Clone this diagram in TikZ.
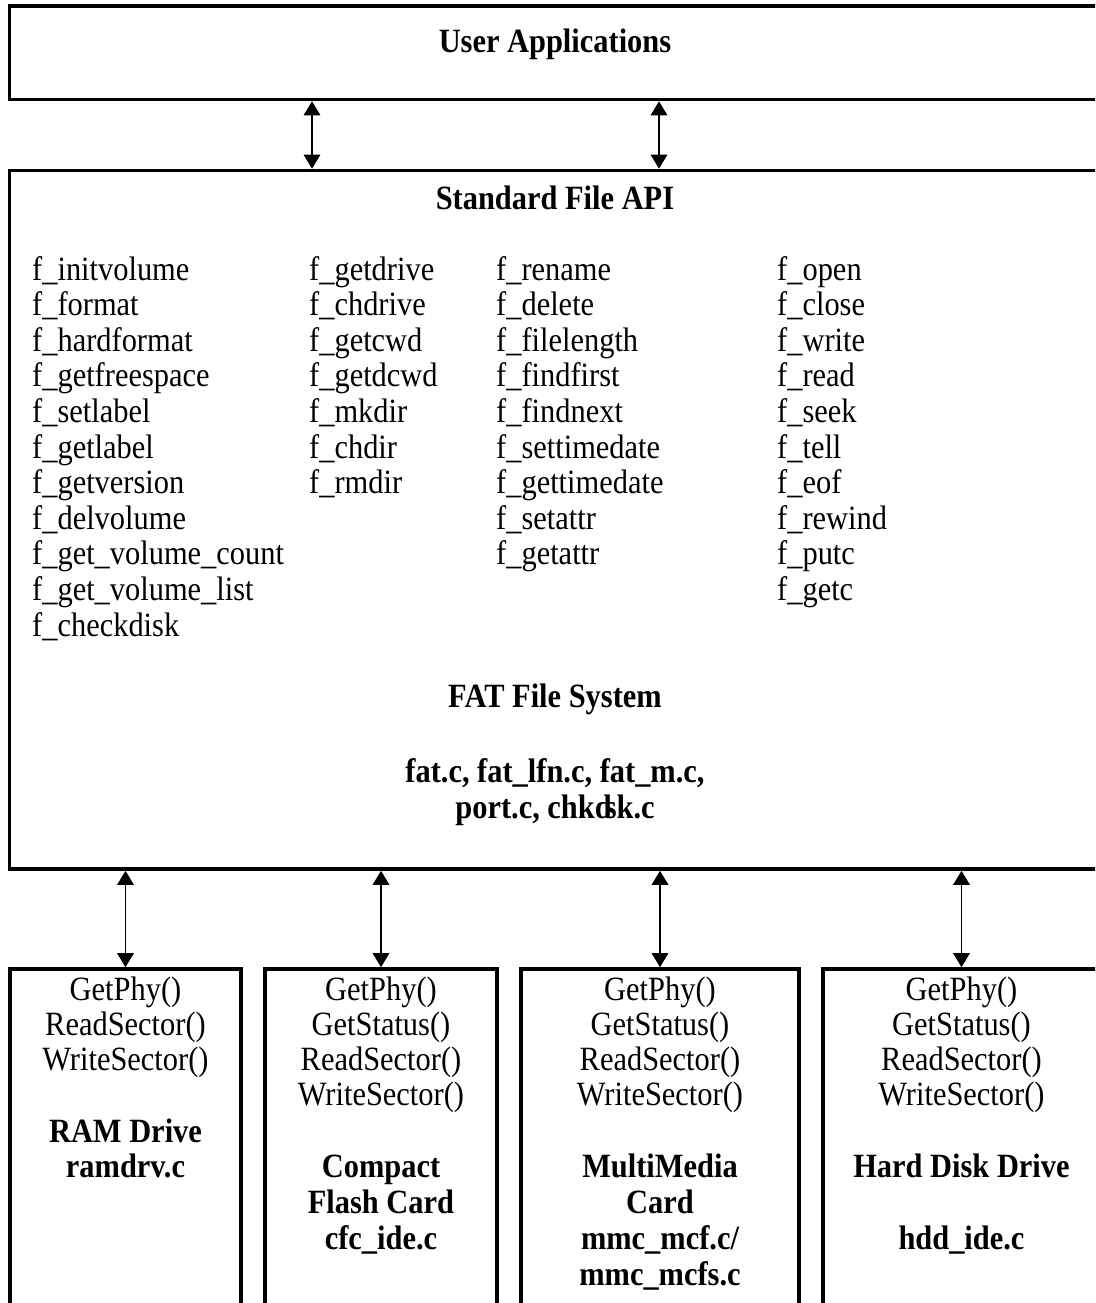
\documentclass[tikz,border=0pt]{standalone}
\usepackage{fontspec}
\setmainfont{Liberation Serif}[FakeStretch=0.895]
\usetikzlibrary{arrows.meta}
\tikzset{
  boxstyle/.style={draw=black, line width=3.6pt, inner sep=0pt, outer sep=0pt, anchor=north west},
  link/.style={line width=1.6pt, {Triangle[width=16.5pt,length=14pt]}-{Triangle[width=16.5pt,length=14pt]}, shorten <=1.8pt, shorten >=1.8pt},
  fn/.style={inner sep=0pt, anchor=base west, font=\fontsize{34}{40}\selectfont},
  ctr/.style={inner sep=0pt, anchor=base, font=\fontsize{34}{40}\selectfont},
  ttl/.style={inner sep=0pt, anchor=base, font=\fontsize{34}{40}\selectfont\bfseries}
}
\begin{document}
\begin{tikzpicture}[x=1pt,y=-1pt]
\useasboundingbox (0,0) rectangle (1095,1303);
\clip (0,0) rectangle (1095,1303);
\fill[white] (0,0) rectangle (1095,1303);

% boxes
\node[boxstyle, minimum width=1090.5pt, minimum height=93.5pt] (user) at (9.5,6) {};
\node[boxstyle, minimum width=1090.5pt, minimum height=698.5pt] (api) at (9.5,170.5) {};
\node[boxstyle, minimum width=231pt, minimum height=360pt] (ram) at (10,969) {};
\node[boxstyle, minimum width=232pt, minimum height=360pt] (cfc) at (265,969) {};
\node[boxstyle, minimum width=278pt, minimum height=360pt] (mmc) at (521,969) {};
\node[boxstyle, minimum width=277pt, minimum height=360pt] (hdd) at (823,969) {};

% connectors
\draw[link] (user.south -| 312,0) -- (api.north -| 312,0);
\draw[link] (user.south -| 659,0) -- (api.north -| 659,0);
\draw[link] (api.south -| ram.north) -- (ram.north);
\draw[link] (api.south -| cfc.north) -- (cfc.north);
\draw[link] (api.south -| mmc.north) -- (mmc.north);
\draw[link] (api.south -| hdd.north) -- (hdd.north);

% titles
\node[ttl] (tUser) at (555,53) {User Applications};
\node[ttl] (tApi) at (555,209) {Standard File API};
\node[ttl] (tFat) at (555,707) {FAT File System};
\node[ttl] (tFiles1) at (555,782) {fat.c, fat\_lfn.c, fat\_m.c,};
\node[ttl] (tFiles2) at (555,818) {port.c, chkd\kern-7pt sk.c};

% function columns
\foreach [count=\i] \t in {f\_initvolume, f\_format, f\_hardformat, f\_getfreespace, f\_setlabel, f\_getlabel, f\_getversion, f\_delvolume, f\_get\_volume\_count, f\_get\_volume\_list, f\_checkdisk}
  \node[fn] (ca\i) at (32,{280+35.6*(\i-1)}) {\t};
\foreach [count=\i] \t in {f\_getdrive, f\_chdrive, f\_getcwd, f\_getdcwd, f\_mkdir, f\_chdir, f\_rmdir}
  \node[fn] (cb\i) at (309,{280+35.6*(\i-1)}) {\t};
\foreach [count=\i] \t in {f\_rename, f\_delete, f\_filelength, f\_findfirst, f\_findnext, f\_settimedate, f\_gettimedate, f\_setattr, f\_getattr}
  \node[fn] (cc\i) at (496,{280+35.6*(\i-1)}) {\t};
\foreach [count=\i] \t in {f\_open, f\_close, f\_write, f\_read, f\_seek, f\_tell, f\_eof, f\_rewind, f\_putc, f\_getc}
  \node[fn] (cd\i) at (777,{280+35.6*(\i-1)}) {\t};

% RAM drive
\node[ctr] (r1) at (125.5,1000) {GetPhy()};
\node[ctr] (r2) at (125.5,1035) {ReadSector()};
\node[ctr] (r3) at (125.5,1070) {WriteSector()};
\node[ttl] (r4) at (125.5,1142) {RAM Drive};
\node[ttl] (r5) at (125.5,1177) {ramdrv.c};

% Compact flash
\node[ctr] (f1) at (381,1000) {GetPhy()};
\node[ctr] (f2) at (381,1035) {GetStatus()};
\node[ctr] (f3) at (381,1070) {ReadSector()};
\node[ctr] (f4) at (381,1105) {WriteSector()};
\node[ttl] (f5) at (381,1177) {Compact};
\node[ttl] (f6) at (381,1213) {Flash Card};
\node[ttl] (f7) at (381,1249) {cfc\_ide.c};

% MultiMedia card
\node[ctr] (m1) at (660,1000) {GetPhy()};
\node[ctr] (m2) at (660,1035) {GetStatus()};
\node[ctr] (m3) at (660,1070) {ReadSector()};
\node[ctr] (m4) at (660,1105) {WriteSector()};
\node[ttl] (m5) at (660,1177) {MultiMedia};
\node[ttl] (m6) at (660,1213) {Card};
\node[ttl] (m7) at (660,1249) {mmc\_mcf.c/};
\node[ttl] (m8) at (660,1285) {mmc\_mcfs.c};

% Hard disk
\node[ctr] (h1) at (961.5,1000) {GetPhy()};
\node[ctr] (h2) at (961.5,1035) {GetStatus()};
\node[ctr] (h3) at (961.5,1070) {ReadSector()};
\node[ctr] (h4) at (961.5,1105) {WriteSector()};
\node[ttl] (h5) at (961.5,1177) {Hard Disk Drive};
\node[ttl] (h6) at (961.5,1249) {hdd\_ide.c};
\end{tikzpicture}
\end{document}
